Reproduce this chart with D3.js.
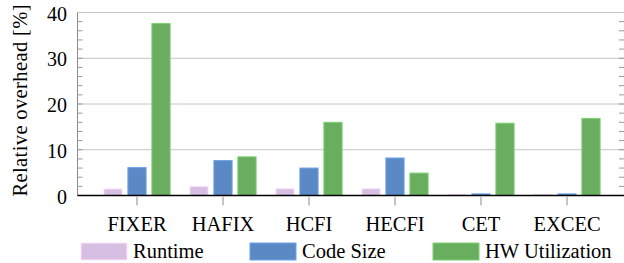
<!DOCTYPE html>
<html>
<head>
<meta charset="utf-8">
<script src="https://cdn.jsdelivr.net/npm/d3@7"></script>
</head>
<body style="margin:0">
<svg width="624" height="263"></svg>
<script>
const categories = ['FIXER', 'HAFIX', 'HCFI', 'HECFI', 'CET', 'EXCEC'];
const seriesNames = ['Runtime', 'Code Size', 'HW Utilization'];
const runtime = [1.45, 2.0, 1.5, 1.5, 0.3, 0.3];
const codeSize = [6.1, 7.65, 6.0, 8.2, 0.35, 0.35];
const hwUtil = [37.6, 8.45, 16.0, 4.9, 15.8, 16.85];
const yTicks = [0, 10, 20, 30, 40];
const colors = ['#d6bfe2', '#5b89c5', '#69ae5f'];

const fontFamily = "'Liberation Serif', 'Times New Roman', Tinos, serif";

const svg = d3.select('svg');
const plot = { left: 77.5, right: 624, top: 12.5, bottom: 195.5 };

const x = d3.scaleBand().domain(categories).range([94, 610]).padding(0);
const xs = d3.scaleBand().domain(seriesNames).range([-36, 36]).paddingInner(0.2).paddingOuter(0.1);
const y = d3.scaleLinear().domain([0, 40]).range([plot.bottom, plot.top]);

function serifText(sel, size) {
  return sel
    .attr('font-family', fontFamily)
    .attr('font-size', size)
    .style('font-family', fontFamily, 'important')
    .style('font-size', size + 'px');
}

// grid lines
svg.append('g').selectAll('line')
  .data(yTicks.filter(d => d > 0))
  .enter().append('line')
  .attr('x1', plot.left).attr('x2', plot.right)
  .attr('y1', d => y(d)).attr('y2', d => y(d))
  .attr('stroke', '#c4c4c4').attr('stroke-width', 1);

// left axis line
svg.append('line')
  .attr('x1', plot.left).attr('x2', plot.left).attr('y1', plot.top).attr('y2', plot.bottom)
  .attr('stroke', '#8a8a8a').attr('stroke-width', 1);

// minor ticks on both sides
const minor = d3.range(2, 40, 2);
svg.append('g').selectAll('line')
  .data(minor)
  .enter().append('line')
  .attr('x1', plot.left).attr('x2', plot.left + 5)
  .attr('y1', d => y(d)).attr('y2', d => y(d))
  .attr('stroke', '#9a9a9a').attr('stroke-width', 1);
svg.append('g').selectAll('line')
  .data(minor)
  .enter().append('line')
  .attr('x1', plot.right - 5).attr('x2', plot.right)
  .attr('y1', d => y(d)).attr('y2', d => y(d))
  .attr('stroke', '#9a9a9a').attr('stroke-width', 1);

// y tick labels
svg.selectAll('text.ytick')
  .data(yTicks)
  .enter().append('text')
  .attr('class', 'ytick')
  .attr('x', 67).attr('y', d => y(d) + 8)
  .attr('text-anchor', 'end')
  .call(serifText, 20)
  .text(d => d);

// y axis title
svg.append('text')
  .attr('transform', 'translate(27,100.5) rotate(-90)')
  .attr('text-anchor', 'middle')
  .call(serifText, 20.5)
  .attr('textLength', 192)
  .attr('lengthAdjust', 'spacing')
  .text('Relative overhead [%]');

// bars
const rows = categories.map((c, i) => ({ cat: c, vals: [runtime[i], codeSize[i], hwUtil[i]] }));
const groups = svg.append('g').selectAll('g')
  .data(rows)
  .enter().append('g')
  .attr('transform', d => 'translate(' + (x(d.cat) + x.bandwidth() / 2) + ',0)');
groups.selectAll('rect')
  .data(d => d.vals.map((v, j) => ({ key: seriesNames[j], value: v, j: j })))
  .enter().append('rect')
  .attr('x', d => xs(d.key) + 0.5)
  .attr('y', d => y(d.value))
  .attr('width', xs.bandwidth() - 1)
  .attr('height', d => y(0) - y(d.value))
  .attr('fill', d => colors[d.j])
  .attr('stroke', d => d3.rgb(colors[d.j]).brighter(0.5))
  .attr('stroke-width', 1);

// x axis
svg.append('line')
  .attr('x1', plot.left).attr('x2', plot.right).attr('y1', plot.bottom).attr('y2', plot.bottom)
  .attr('stroke', '#000').attr('stroke-width', 1.3);
svg.append('g').selectAll('line')
  .data(categories)
  .enter().append('line')
  .attr('x1', d => x(d) + x.bandwidth() / 2).attr('x2', d => x(d) + x.bandwidth() / 2)
  .attr('y1', plot.bottom + 1.5).attr('y2', plot.bottom + 10)
  .attr('stroke', '#8a8a8a').attr('stroke-width', 1);
svg.selectAll('text.xlabel')
  .data(categories)
  .enter().append('text')
  .attr('class', 'xlabel')
  .attr('x', d => x(d) + x.bandwidth() / 2).attr('y', 230.5)
  .attr('text-anchor', 'middle')
  .call(serifText, 20.5)
  .text(d => d);

// legend
const legendX = [81, 250, 433];
svg.selectAll('rect.swatch')
  .data(seriesNames)
  .enter().append('rect')
  .attr('class', 'swatch')
  .attr('x', (d, i) => legendX[i]).attr('y', 243)
  .attr('width', 46).attr('height', 17)
  .attr('fill', (d, i) => colors[i])
  .attr('stroke', (d, i) => d3.rgb(colors[i]).brighter(0.5));
svg.selectAll('text.legend')
  .data(seriesNames)
  .enter().append('text')
  .attr('class', 'legend')
  .attr('x', (d, i) => legendX[i] + 52).attr('y', 258.3)
  .call(serifText, 20.5)
  .text(d => d);
</script>
</body>
</html>
